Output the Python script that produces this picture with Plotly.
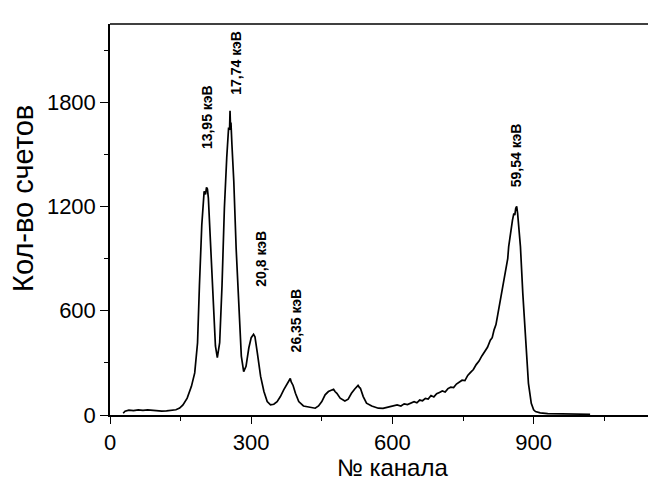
import plotly.graph_objects as go

# Spectrum
channels = [28, 32, 40, 50, 60, 70, 80, 90, 100, 110, 120, 130, 140, 148, 155, 164, 173, 180, 186, 190,
            195, 200, 203, 205, 207, 209, 214, 219, 224, 228, 233, 238, 243, 248, 251, 252, 254, 255, 256, 257,
            259, 263, 268, 274, 279, 284, 289, 295, 300, 305, 308, 313, 320, 327, 334, 341, 348, 355, 362, 369,
            376, 381, 383, 385, 389, 394, 401, 411, 425, 436, 443, 450, 457, 464, 470, 475, 478, 482, 489, 499,
            506, 513, 520, 523, 527, 530, 532, 538, 545, 556, 570, 580, 590, 600, 610, 618, 625, 632, 640, 646,
            652, 658, 664, 670, 676, 682, 688, 694, 700, 706, 712, 718, 724, 730, 736, 742, 748, 754, 760, 766,
            772, 778, 784, 790, 796, 802, 808, 812, 816, 820, 824, 828, 833, 838, 842, 845, 847, 850, 852, 855,
            858, 860, 862, 864, 866, 868, 870, 872, 877, 883, 889, 895, 900, 904, 914, 930, 950, 970, 990, 1010,
            1020]
counts = [10, 22, 28, 25, 30, 27, 29, 26, 24, 22, 24, 27, 30, 40, 58, 97, 165, 242, 416, 745,
          1093, 1287, 1270, 1310, 1300, 1248, 958, 629, 397, 330, 416, 745, 1190, 1480, 1620, 1654, 1640, 1750, 1660, 1683,
          1558, 1345, 958, 590, 339, 250, 280, 387, 445, 464, 450, 357, 222, 135, 77, 58, 62, 77, 106, 145,
          174, 195, 210, 190, 170, 125, 77, 52, 44, 39, 52, 77, 116, 135, 142, 148, 135, 125, 97, 81,
          91, 125, 150, 160, 170, 158, 154, 106, 68, 52, 39, 38, 44, 50, 58, 52, 64, 60, 72, 77,
          70, 86, 82, 96, 92, 112, 104, 122, 130, 138, 132, 152, 160, 158, 178, 190, 200, 198, 228, 245,
          262, 290, 310, 340, 362, 390, 430, 445, 490, 520, 580, 640, 719, 780, 834, 900, 969, 1030, 1084, 1120,
          1160, 1150, 1190, 1200, 1160, 1100, 1030, 969, 700, 432, 182, 67, 30, 20, 12, 8, 7, 6, 5, 5,
          4]

peak_labels = ["13,95 кэВ", "17,74 кэВ", "20,8 кэВ", "26,35 кэВ", "59,54 кэВ"]
peak_label_x = [206, 267, 320, 394, 863]
peak_label_y = [1714, 2025, 897, 547, 1496]

x_ticks = [0, 300, 600, 900]
y_ticks = [0, 600, 1200, 1800]

W, H = 648, 489
L, R, T, B = 110, 0, 24, 74
pw, ph = W - L - R, H - T - B

fig = go.Figure()
fig.add_trace(go.Scatter(x=channels, y=counts, mode="lines",
                         line=dict(color="black", width=1.7), showlegend=False, hoverinfo="skip"))

for t, xv, yv in zip(peak_labels, peak_label_x, peak_label_y):
    fig.add_annotation(x=xv, y=yv, xref="x", yref="y", text="<b>%s</b>" % t, textangle=-90,
                       xanchor="center", yanchor="middle",
                       showarrow=False, font=dict(family="Liberation Sans, Arial", size=14, color="black"))

fig.add_annotation(x=(23 - L) / pw, y=(H - B - 199) / ph, xref="paper", yref="paper",
                   text="Кол-во счетов", textangle=-90, xanchor="center", yanchor="middle",
                   showarrow=False, font=dict(family="Liberation Sans, Arial", size=29, color="black"))
fig.add_annotation(x=(392 - L) / pw, y=(H - B - 467) / ph, xref="paper", yref="paper",
                   text="№ канала", xanchor="center", yanchor="middle",
                   showarrow=False, font=dict(family="Liberation Sans, Arial", size=24, color="black"))

# top frame line running off the right edge, as in the reference
fig.add_shape(type="line", xref="paper", yref="paper", x0=0, x1=1.1, y0=1, y1=1,
              line=dict(color="black", width=1.5))

fig.update_layout(
    width=W, height=H, margin=dict(l=L, r=R, t=T, b=B),
    paper_bgcolor="white", plot_bgcolor="white",
    font=dict(family="Liberation Sans, Arial", color="black"),
    xaxis=dict(range=[0, 1143], tickvals=x_ticks, ticks="outside", ticklen=7, tickwidth=1.2,
               tickcolor="black", showline=True, linecolor="black", linewidth=1.5, mirror=False,
               showgrid=False, zeroline=False, tickfont=dict(size=22),
               minor=dict(dtick=150, tick0=0, ticks="outside", ticklen=4, tickcolor="black", tickwidth=1.2)),
    yaxis=dict(range=[0, 2250], tickvals=y_ticks, ticks="outside", ticklen=8, tickwidth=1.2,
               tickcolor="black", showline=True, linecolor="black", linewidth=1.5,
               showgrid=False, zeroline=False, tickfont=dict(size=22),
               minor=dict(dtick=300, tick0=0, ticks="outside", ticklen=4, tickcolor="black", tickwidth=1.2)),
)

post = (
    "var s=document.createElement('style');"
    "s.textContent='html,body{margin:0;padding:0;overflow:hidden;scrollbar-width:none;}"
    "::-webkit-scrollbar{display:none;width:0;height:0;}';"
    "document.head.appendChild(s);"
)
fig.write_html("out.html", config={"displayModeBar": False}, post_script=post)
